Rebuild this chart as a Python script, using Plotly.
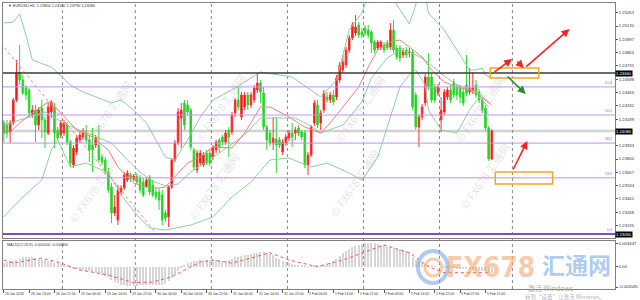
import plotly.graph_objects as go

# ---------------- data (EURUSD H1) ----------------
OPEN = [1.2416, 1.2414, 1.2407, 1.2416, 1.2439, 1.2467, 1.2459, 1.2451, 1.2449, 1.2424,
        1.2429, 1.2414, 1.2431, 1.2419, 1.2406, 1.2427, 1.2432, 1.2409, 1.2404, 1.2406,
        1.2414, 1.2397, 1.2374, 1.2387, 1.2399, 1.2402, 1.2407, 1.2399, 1.2394, 1.2394,
        1.2394, 1.2382, 1.2379, 1.2367, 1.2352, 1.2326, 1.2319, 1.2347, 1.2351, 1.2359,
        1.2364, 1.2360, 1.2363, 1.2361, 1.2357, 1.2353, 1.2362, 1.2354, 1.2347, 1.2347,
        1.2344, 1.2326, 1.2322, 1.2352, 1.2379, 1.2396, 1.2421, 1.2436, 1.2434, 1.2429,
        1.2389, 1.2369, 1.2376, 1.2374, 1.2386, 1.2386, 1.2382, 1.2389, 1.2399, 1.2402,
        1.2397, 1.2409, 1.2407, 1.2426, 1.2439, 1.2422, 1.2432, 1.2444, 1.2434, 1.2439,
        1.2449, 1.2456, 1.2446, 1.2412, 1.2406, 1.2396, 1.2400, 1.2399, 1.2387, 1.2396,
        1.2401, 1.2406, 1.2406, 1.2411, 1.2407, 1.2406, 1.2374, 1.2384, 1.2416, 1.2434,
        1.2416, 1.2429, 1.2442, 1.2439, 1.2444, 1.2442, 1.2459, 1.2469, 1.2474, 1.2489,
        1.2501, 1.2506, 1.2514, 1.2507, 1.2511, 1.2509, 1.2507, 1.2497, 1.2491, 1.2492,
        1.2494, 1.2496, 1.2492, 1.2509, 1.2491, 1.2491, 1.2484, 1.2489, 1.2486, 1.2487,
        1.2444, 1.2412, 1.2422, 1.2436, 1.2462, 1.2462, 1.2452, 1.2446, 1.2419, 1.2427,
        1.2442, 1.2449, 1.2457, 1.2452, 1.2451, 1.2447, 1.2454, 1.2447, 1.2448, 1.2454,
        1.2447, 1.2439, 1.2431, 1.2411, 1.2380]
HIGH = [1.2419, 1.2419, 1.2419, 1.2441, 1.2479, 1.2494, 1.2464, 1.2454, 1.2451, 1.2434,
        1.2434, 1.2432, 1.2439, 1.2422, 1.2436, 1.2439, 1.2436, 1.2412, 1.2419, 1.2419,
        1.2417, 1.2399, 1.2394, 1.2404, 1.2407, 1.2411, 1.2414, 1.2404, 1.2411, 1.2404,
        1.2414, 1.2385, 1.2382, 1.2371, 1.2356, 1.2344, 1.2354, 1.2354, 1.2367, 1.2369,
        1.2366, 1.2365, 1.2366, 1.2364, 1.2361, 1.2361, 1.2364, 1.2359, 1.2351, 1.2351,
        1.2349, 1.2329, 1.2354, 1.2381, 1.2399, 1.2431, 1.2436, 1.2439, 1.2439, 1.2431,
        1.2391, 1.2389, 1.2389, 1.2387, 1.2389, 1.2389, 1.2394, 1.2399, 1.2401, 1.2404,
        1.2409, 1.2412, 1.2427, 1.2441, 1.2452, 1.2447, 1.2447, 1.2447, 1.2447, 1.2454,
        1.2466, 1.2459, 1.2452, 1.2414, 1.2409, 1.2422, 1.2422, 1.2402, 1.2400, 1.2405,
        1.2409, 1.2416, 1.2412, 1.2414, 1.2409, 1.2409, 1.2387, 1.2414, 1.2439, 1.2439,
        1.2429, 1.2449, 1.2447, 1.2447, 1.2449, 1.2464, 1.2477, 1.2484, 1.2492, 1.2504,
        1.2517, 1.2524, 1.2517, 1.2511, 1.2514, 1.2514, 1.2509, 1.2499, 1.2499, 1.2499,
        1.2497, 1.2499, 1.2516, 1.2519, 1.2494, 1.2494, 1.2491, 1.2492, 1.2491, 1.2489,
        1.2447, 1.2425, 1.2435, 1.2465, 1.2486, 1.2465, 1.2455, 1.2455, 1.2442, 1.2450,
        1.2452, 1.2454, 1.2460, 1.2455, 1.2454, 1.2450, 1.2484, 1.2471, 1.2467, 1.2459,
        1.2450, 1.2442, 1.2434, 1.2413, 1.2410]
LOW = [1.2397, 1.2401, 1.2396, 1.2414, 1.2437, 1.2454, 1.2444, 1.2439, 1.2421, 1.2421,
       1.2397, 1.2409, 1.2401, 1.2391, 1.2404, 1.2421, 1.2391, 1.2399, 1.2401, 1.2403,
       1.2394, 1.2372, 1.2371, 1.2384, 1.2396, 1.2399, 1.2396, 1.2377, 1.2367, 1.2391,
       1.2376, 1.2374, 1.2364, 1.2346, 1.2316, 1.2323, 1.2314, 1.2344, 1.2349, 1.2357,
       1.2357, 1.2358, 1.2355, 1.2346, 1.2342, 1.2351, 1.2344, 1.2342, 1.2339, 1.2329,
       1.2314, 1.2317, 1.2312, 1.2350, 1.2377, 1.2394, 1.2391, 1.2409, 1.2424, 1.2389,
       1.2369, 1.2366, 1.2373, 1.2372, 1.2374, 1.2373, 1.2379, 1.2386, 1.2386, 1.2394,
       1.2394, 1.2382, 1.2404, 1.2422, 1.2429, 1.2419, 1.2429, 1.2429, 1.2431, 1.2436,
       1.2446, 1.2436, 1.2409, 1.2389, 1.2393, 1.2389, 1.2366, 1.2391, 1.2384, 1.2393,
       1.2398, 1.2392, 1.2399, 1.2403, 1.2399, 1.2371, 1.2364, 1.2382, 1.2413, 1.2411,
       1.2409, 1.2426, 1.2436, 1.2436, 1.2434, 1.2439, 1.2456, 1.2466, 1.2471, 1.2486,
       1.2499, 1.2503, 1.2501, 1.2501, 1.2503, 1.2501, 1.2486, 1.2486, 1.2489, 1.2489,
       1.2486, 1.2489, 1.2489, 1.2486, 1.2479, 1.2477, 1.2481, 1.2481, 1.2482, 1.2429,
       1.2409, 1.2392, 1.2419, 1.2433, 1.2449, 1.2436, 1.2436, 1.2443, 1.2407, 1.2424,
       1.2439, 1.2436, 1.2441, 1.2439, 1.2436, 1.2433, 1.2443, 1.2444, 1.2445, 1.2441,
       1.2436, 1.2426, 1.2408, 1.2378, 1.2379]
CLOSE = [1.2406, 1.2406, 1.2416, 1.2439, 1.2467, 1.2459, 1.2446, 1.2444, 1.2426, 1.2429,
         1.2414, 1.2429, 1.2419, 1.2407, 1.2432, 1.2437, 1.2406, 1.2401, 1.2416, 1.2416,
         1.2397, 1.2376, 1.2391, 1.2401, 1.2404, 1.2408, 1.2399, 1.2389, 1.2389, 1.2401,
         1.2379, 1.2377, 1.2367, 1.2349, 1.2326, 1.2332, 1.2349, 1.2351, 1.2364, 1.2366,
         1.2360, 1.2363, 1.2357, 1.2349, 1.2344, 1.2359, 1.2347, 1.2344, 1.2342, 1.2339,
         1.2319, 1.2321, 1.2352, 1.2379, 1.2396, 1.2427, 1.2429, 1.2414, 1.2427, 1.2392,
         1.2372, 1.2386, 1.2386, 1.2384, 1.2376, 1.2376, 1.2392, 1.2397, 1.2392, 1.2397,
         1.2406, 1.2402, 1.2424, 1.2439, 1.2432, 1.2444, 1.2444, 1.2434, 1.2444, 1.2451,
         1.2456, 1.2447, 1.2412, 1.2399, 1.2396, 1.2401, 1.2394, 1.2394, 1.2397, 1.2402,
         1.2406, 1.2402, 1.2409, 1.2406, 1.2402, 1.2374, 1.2384, 1.2412, 1.2436, 1.2414,
         1.2426, 1.2446, 1.2439, 1.2444, 1.2437, 1.2461, 1.2474, 1.2477, 1.2489, 1.2501,
         1.2514, 1.2512, 1.2504, 1.2504, 1.2506, 1.2504, 1.2496, 1.2489, 1.2497, 1.2497,
         1.2489, 1.2491, 1.2509, 1.2489, 1.2482, 1.2481, 1.2487, 1.2484, 1.2487, 1.2432,
         1.2412, 1.2422, 1.2432, 1.2462, 1.2452, 1.2439, 1.2439, 1.2452, 1.2429, 1.2447,
         1.2449, 1.2439, 1.2444, 1.2444, 1.2442, 1.2436, 1.2446, 1.2451, 1.2451, 1.2444,
         1.2439, 1.2429, 1.2411, 1.2380, 1.2408]

# Bollinger bands and moving average, read at sample bars
UPPER_IDX = [0, 3, 5, 7, 9, 15, 21, 25, 34, 37, 41, 45, 48, 51, 54, 58, 62, 66, 73, 81, 87, 91,
             96, 100, 105, 109, 113, 115, 121, 124, 127, 128, 130, 131, 133, 134, 139, 143,
             147, 149, 151, 152, 154]
UPPER = [1.2516, 1.2517, 1.2525, 1.2504, 1.2479, 1.2472, 1.2454, 1.2447, 1.2436, 1.2439,
         1.2429, 1.2416, 1.2399, 1.2382, 1.2379, 1.2399, 1.2422, 1.2439, 1.2451, 1.2467,
         1.2464, 1.2462, 1.2451, 1.2442, 1.2459, 1.2509, 1.2526, 1.2544, 1.2549, 1.2534,
         1.2519, 1.2515, 1.2534, 1.2549, 1.2544, 1.2526, 1.2509, 1.2489, 1.2469, 1.2469,
         1.2471, 1.2464, 1.2461]
LOWER_IDX = [0, 5, 12, 15, 17, 21, 26, 33, 37, 42, 46, 51, 59, 66, 72, 78, 84, 90, 97, 102,
             109, 113, 118, 122, 125, 128, 130, 133, 134, 138, 143, 147, 150, 153]
LOWER = [1.2322, 1.2339, 1.2359, 1.2389, 1.2399, 1.2372, 1.2376, 1.2366, 1.2344, 1.2324,
         1.2311, 1.2309, 1.2314, 1.2322, 1.2342, 1.2357, 1.2379, 1.2381, 1.2372, 1.2376,
         1.2366, 1.2359, 1.2382, 1.2422, 1.2452, 1.2464, 1.2469, 1.2454, 1.2429, 1.2409,
         1.2406, 1.2429, 1.2442, 1.2432]
MID_IDX = [0, 5, 13, 20, 26, 34, 39, 43, 47, 51, 55, 59, 64, 68, 76, 81, 87, 92, 97, 100,
           107, 113, 116, 121, 125, 128, 132, 139, 143, 148, 151, 153]
MID = [1.2414, 1.2419, 1.2427, 1.2414, 1.2406, 1.2396, 1.2379, 1.2367, 1.2358, 1.2353,
       1.2355, 1.2367, 1.2377, 1.2386, 1.2404, 1.2421, 1.2421, 1.2421, 1.2413, 1.2406,
       1.2414, 1.2437, 1.2461, 1.2481, 1.2489, 1.2487, 1.2481, 1.2463, 1.2454, 1.2449,
       1.2443, 1.2437]
MA_IDX = [0, 2, 5, 9, 14, 15, 18, 23, 28, 33, 36, 41, 45, 49, 51, 54, 58, 62, 66, 72, 76, 81,
          84, 90, 95, 100, 103, 107, 112, 115, 118, 122, 125, 128, 132, 135, 139, 143, 147,
          149, 152, 154]
MA = [1.2409, 1.2407, 1.2416, 1.2426, 1.2437, 1.2436, 1.2426, 1.2409, 1.2402, 1.2389,
      1.2372, 1.2356, 1.2352, 1.2351, 1.2352, 1.2362, 1.2376, 1.2382, 1.2392, 1.2391,
      1.2406, 1.2432, 1.2432, 1.2422, 1.2412, 1.2406, 1.2416, 1.2432, 1.2452, 1.2472,
      1.2489, 1.2497, 1.2499, 1.2492, 1.2482, 1.2469, 1.2457, 1.2452, 1.2449, 1.2446,
      1.2439, 1.2434]

# MACD (values in pips, 0.0001)
MACD_HIST_PIPS = [6, 7, 8, 9, 10, 12, 14, 15, 15, 14, 13, 12, 11, 10, 9,
                  8, 6, 5, 4, 3, 1, -1, -3, -4, -5, -5, -6,
                  -7, -8, -9, -10, -12, -14, -16, -20, -23, -25, -27, -28, -29, -29,
                  -29, -29, -28, -28, -28, -27, -27, -27, -28,
                  -28, -26, -22, -17, -12, -6, -2, 2, 5, 7, 8, 9, 10, 10, 10, 10,
                  10, 10, 10, 9, 9, 10, 12, 14, 15, 16, 17, 18, 19,
                  20, 21, 22, 22, 21, 19, 17, 13, 11, 9, 7,
                  5, 4, 3, 3, 2, 2, 1, 1, 2, 3, 3, 3, 4, 6, 9, 12,
                  16, 20, 24, 27, 29, 31, 33, 34, 35, 35, 35, 35, 34, 33, 32,
                  30, 29, 28, 27, 26, 25, 23, 21, 15, 10, 7, 5, 4, 3,
                  2, 1, 0, 0, -1, -1, -2, -2, -3, -3, -4, -4, -4, -5, -5,
                  -6, -6, -7, -9, -10]
SIG_IDX = [0, 3, 12, 18, 24, 33, 41, 47, 53, 62, 66, 72, 78, 84, 90, 99, 107, 120, 128, 134, 139, 153]
SIG_PIPS = [10, 5.5, 13, 5.5, -5, -12.5, -24, -23, -15, 7, 10, 5.5, 13, 21, 10, 0, 10, 32.5, 21, 0, -9, -9]

TIME_TICK_IDX = [0, 8, 16, 24, 32, 40, 48, 56, 64, 72, 80, 88, 96, 104, 112, 120, 128, 136, 144, 152]
TIME_TICK_TEXT = ["26 Jan 2018", "26 Jan 13:00", "26 Jan 21:00", "29 Jan 06:00", "29 Jan 14:00",
                  "29 Jan 22:00", "30 Jan 06:00", "30 Jan 14:00", "30 Jan 22:00", "31 Jan 06:00",
                  "31 Jan 14:00", "31 Jan 22:00", "1 Feb 06:00", "1 Feb 14:00", "1 Feb 22:00",
                  "2 Feb 06:00", "2 Feb 14:00", "2 Feb 22:00", "5 Feb 07:00", "5 Feb 15:00"]
DAY_SEPARATORS = [18.5, 41.5, 65.5, 89.5, 113.5, 137.5, 160.5]
PRICE_TICKS = [1.25263, 1.25130, 1.24997, 1.24864, 1.24731, 1.24598, 1.24465, 1.24332,
               1.24199, 1.24066, 1.23933, 1.23800, 1.23667, 1.23534, 1.23401, 1.23268, 1.23135]
MACD_TICKS = [0.003447, 0.0, -0.003045]
MACD_TICK_TEXT = ["0.003447", "0.00", "-0.003045"]

FIB_LOW, FIB_HIGH = 1.2305, 1.2543
FIB_RATIOS = [0.0, 23.6, 38.2, 50.0, 61.8]
RESIST_LINE = 1.2466
TRENDLINE_IDX = [-1.0, 48.5]
TRENDLINE_PRICE = [1.2496, 1.2304]
BOXES = [dict(x0=153.5, x1=168.8, y0=1.2461, y1=1.2471),
         dict(x0=155.1, x1=173.2, y0=1.2355, y1=1.2367)]
ARROWS = [dict(x0=154.4, y0=1.2466, x1=160.4, y1=1.2480, c="#ff2020"),
          dict(x0=161.6, y0=1.2479, x1=164.1, y1=1.2471, c="#ff2020"),
          dict(x0=164.4, y0=1.2471, x1=178.5, y1=1.2510, c="#ff2020"),
          dict(x0=158.5, y0=1.2464, x1=164.7, y1=1.2445, c="#2e8b2e"),
          dict(x0=160.5, y0=1.2368, x1=165.2, y1=1.2398, c="#ff2020")]

# ---------------- geometry ----------------
W, H = 640, 300
ML, MR, MT, MB = 2, 20, 3, 11
PLOT_W = W - ML - MR
PLOT_H = H - MT - MB
PX_PER_BAR = 3.2


def px_x(X):
    return (X - ML) / PLOT_W


def px_y(Y):
    return (H - MB - Y) / PLOT_H


MAIN_DOMAIN = [px_y(238), 1.0]
MACD_DOMAIN = [0.0, px_y(241)]
X_RANGE = [-0.25, -0.25 + PLOT_W / PX_PER_BAR]
PRICE_RANGE = [1.2301, 1.2536]
MACD_RANGE = [-0.003345, 0.003855]
PRICE_PER_PX = (PRICE_RANGE[1] - PRICE_RANGE[0]) / (px_y(3) - px_y(238)) / PLOT_H

FONT = "Liberation Sans, Arial, sans-serif"
BAND_COLOR = "#8fcf9f"

idx = list(range(len(OPEN)))
fig = go.Figure()

fig.add_trace(go.Candlestick(
    x=idx, open=OPEN, high=HIGH, low=LOW, close=CLOSE,
    increasing=dict(line=dict(color="#ff3030", width=1), fillcolor="#ff0000"),
    decreasing=dict(line=dict(color="#30d830", width=1), fillcolor="#1ecc1e"),
    whiskerwidth=0, xaxis="x", yaxis="y", hoverinfo="skip"))

for xs, ys, col in [(UPPER_IDX, UPPER, BAND_COLOR), (LOWER_IDX, LOWER, BAND_COLOR),
                    (MID_IDX, MID, BAND_COLOR), (MA_IDX, MA, "#f08080")]:
    fig.add_trace(go.Scatter(x=xs, y=ys, mode="lines", line=dict(color=col, width=1),
                             xaxis="x", yaxis="y", hoverinfo="skip"))

fig.add_trace(go.Scatter(x=TRENDLINE_IDX, y=TRENDLINE_PRICE, mode="lines",
                         line=dict(color="#ff8080", width=1, dash="dot"),
                         xaxis="x", yaxis="y", hoverinfo="skip"))

fig.add_trace(go.Bar(x=idx, y=[v * 0.0001 for v in MACD_HIST_PIPS], width=0.35,
                     marker=dict(color="#d6d6d6", line=dict(width=0)),
                     xaxis="x2", yaxis="y2", hoverinfo="skip"))
fig.add_trace(go.Scatter(x=SIG_IDX, y=[v * 0.0001 for v in SIG_PIPS], mode="lines",
                         line=dict(color="#ff5050", width=1, dash="dot"),
                         xaxis="x2", yaxis="y2", hoverinfo="skip"))

shapes = []
annotations = []

# fibonacci levels
for r in FIB_RATIOS:
    lvl = FIB_LOW + (FIB_HIGH - FIB_LOW) * r / 100.0
    shapes.append(dict(type="line", xref="paper", yref="y", x0=0, x1=1, y0=lvl, y1=lvl,
                       line=dict(color="#7a4fc4" if r == 0 else "#c090f0",
                                 width=2.2 if r == 0 else 1), layer="above"))
    annotations.append(dict(xref="paper", yref="y", x=0.998, y=lvl, text=f"{r:.1f}",
                            xanchor="right", yanchor="bottom", showarrow=False,
                            font=dict(size=3.6, color="#9a6ad8", family=FONT)))

# resistance and bid lines
bid = CLOSE[-1]
shapes.append(dict(type="line", xref="paper", yref="y", x0=0, x1=1, y0=bid, y1=bid,
                   line=dict(color="#d2d2d2", width=2.5), layer="below"))
shapes.append(dict(type="line", xref="paper", yref="y", x0=0, x1=1, y0=RESIST_LINE,
                   y1=RESIST_LINE, line=dict(color="#3a3a3a", width=1.4), layer="above"))

# day separators through both panels
for s in DAY_SEPARATORS:
    shapes.append(dict(type="line", xref="x", yref="paper", x0=s, x1=s, y0=0, y1=1,
                       line=dict(color="#8a8a8a", width=1, dash="dot"), layer="below"))

# orange boxes
for b in BOXES:
    shapes.append(dict(type="rect", xref="x", yref="y", x0=b["x0"], x1=b["x1"],
                       y0=b["y0"], y1=b["y1"], line=dict(color="#f2a81d", width=1.5)))

# arrows
for a in ARROWS:
    annotations.append(dict(xref="x", yref="y", axref="x", ayref="y", x=a["x1"], y=a["y1"],
                            ax=a["x0"], ay=a["y0"], text="", showarrow=True, arrowhead=2,
                            arrowsize=1, arrowwidth=1.6, arrowcolor=a["c"]))

# highlighted price boxes on the axis
HIGHLIGHTS = [RESIST_LINE, bid, FIB_LOW]
for val in HIGHLIGHTS:
    annotations.append(dict(xref="paper", yref="y", x=1.0, y=val, text=f"{val:.5f}",
                            xanchor="left", yanchor="middle", showarrow=False,
                            bgcolor="#000000", borderpad=0,
                            font=dict(size=4.2, color="#ffffff", family=FONT)))
# regular tick labels, skipping those hidden behind a highlighted box
shown_ticks = [t for t in PRICE_TICKS
               if all(abs(t - h) > 6 * PRICE_PER_PX for h in HIGHLIGHTS)]

# headers
annotations.append(dict(xref="paper", yref="paper", x=px_x(5), y=px_y(6),
                        text=f"▼ EURUSD,H1  {OPEN[-1]:.5f} {HIGH[-1]:.5f} {LOW[-1]:.5f} {CLOSE[-1]:.5f}",
                        xanchor="left", yanchor="middle", showarrow=False,
                        font=dict(size=3.8, color="#333333", family=FONT)))
annotations.append(dict(xref="paper", yref="paper", x=px_x(4), y=px_y(245),
                        text=f"MACD(12,26,9) {MACD_HIST_PIPS[-1]*0.0001:.6f} {SIG_PIPS[-1]*0.0001:.6f}",
                        xanchor="left", yanchor="middle", showarrow=False,
                        font=dict(size=3.7, color="#333333", family=FONT)))

# time labels
for t, txt in zip(TIME_TICK_IDX, TIME_TICK_TEXT):
    annotations.append(dict(xref="x2", yref="paper", x=t - 0.2, y=px_y(293.5), text=txt,
                            xanchor="left", yanchor="middle", showarrow=False,
                            font=dict(size=3.4, color="#333333", family=FONT)))

# watermarks
for (cx, cy) in [(75, 75), (222, 68), (362, 70), (515, 70),
                 (62, 228), (215, 225), (357, 222), (520, 215)]:
    annotations.append(dict(xref="paper", yref="paper", x=px_x(cx), y=px_y(cy),
                            text="© FX678 汇通网", textangle=-55, showarrow=False,
                            font=dict(size=11, color="rgba(160,160,160,0.3)",
                                      family="Noto Sans CJK SC")))

# big logo
shapes.append(dict(type="circle", xref="paper", yref="paper", x0=px_x(421), x1=px_x(451),
                   y0=px_y(283), y1=px_y(251), line=dict(color="rgba(110,160,225,0.55)", width=4)))
shapes.append(dict(type="circle", xref="paper", yref="paper", x0=px_x(428), x1=px_x(445),
                   y0=px_y(276), y1=px_y(259), line=dict(color="rgba(245,160,95,0.55)", width=3)))
annotations.append(dict(xref="paper", yref="paper", x=px_x(494), y=px_y(267), text="<b>FX678</b>",
                        showarrow=False, xanchor="center", yanchor="middle",
                        font=dict(size=28, color="rgba(247,165,110,0.6)",
                                  family="Liberation Sans Narrow, DejaVu Sans Condensed, sans-serif")))
annotations.append(dict(xref="paper", yref="paper", x=px_x(581), y=px_y(264), text="<b>汇通网</b>",
                        showarrow=False, xanchor="center", yanchor="middle",
                        font=dict(size=23, color="rgba(120,170,225,0.6)", family="Noto Sans CJK SC")))
annotations.append(dict(xref="paper", yref="paper", x=px_x(530), y=px_y(287.5), text="激活 Windows",
                        showarrow=False, xanchor="left", yanchor="middle",
                        font=dict(size=7, color="rgba(150,150,150,0.8)", family="Noto Sans CJK SC")))
annotations.append(dict(xref="paper", yref="paper", x=px_x(527), y=px_y(296.5),
                        text="转到“设置”以激活 Windows。", showarrow=False, xanchor="left",
                        yanchor="middle",
                        font=dict(size=5.5, color="rgba(160,160,160,0.8)", family="Noto Sans CJK SC")))

axis_common = dict(showgrid=False, zeroline=False, showline=True, mirror=True,
                   linecolor="#808080", linewidth=1)

fig.update_layout(
    width=W, height=H, margin=dict(l=ML, r=MR, t=MT, b=MB),
    paper_bgcolor="#ffffff", plot_bgcolor="#ffffff", showlegend=False,
    hovermode=False, bargap=0,
    xaxis=dict(domain=[0, 1], range=X_RANGE, anchor="y", showticklabels=False,
               rangeslider=dict(visible=False), ticks="", **axis_common),
    yaxis=dict(domain=MAIN_DOMAIN, range=PRICE_RANGE, anchor="x", side="right",
               tickvals=shown_ticks, ticktext=[f"{v:.5f}" for v in shown_ticks],
               ticks="outside", ticklen=2, tickcolor="#555555",
               tickfont=dict(size=4.2, color="#333333", family=FONT), **axis_common),
    xaxis2=dict(domain=[0, 1], range=X_RANGE, anchor="y2", matches="x",
                tickvals=TIME_TICK_IDX, showticklabels=False, ticks="outside", ticklen=3,
                tickcolor="#555555", **axis_common),
    yaxis2=dict(domain=MACD_DOMAIN, range=MACD_RANGE, anchor="x2", side="right",
                tickvals=MACD_TICKS, ticktext=MACD_TICK_TEXT, ticks="outside", ticklen=2,
                tickcolor="#555555", tickfont=dict(size=4.2, color="#333333", family=FONT),
                **axis_common),
    shapes=shapes, annotations=annotations,
)

fig.write_html("out.html")
